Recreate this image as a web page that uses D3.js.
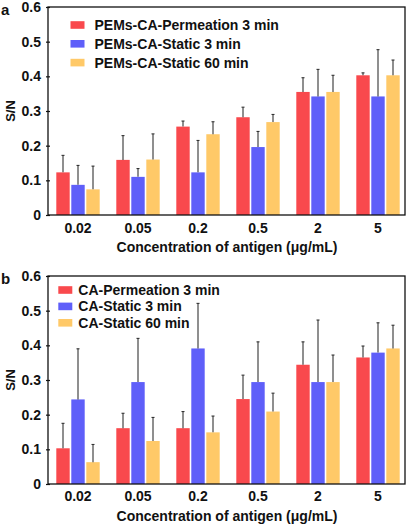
<!DOCTYPE html>
<html><head><meta charset="utf-8">
<script src="https://cdn.jsdelivr.net/npm/d3@7"></script>
<style>body{margin:0;background:#fff}svg{display:block}text{font-family:"Liberation Sans",Arial,sans-serif;font-weight:bold}</style>
</head><body>
<script>
const categories = ["0.02","0.05","0.2","0.5","2","5"];
const seriesA = ["PEMs-CA-Permeation 3 min","PEMs-CA-Static 3 min","PEMs-CA-Static 60 min"];
const seriesB = ["CA-Permeation 3 min","CA-Static 3 min","CA-Static 60 min"];
const colors = ["#F9494D","#5F5FF9","#FFC968"];
// panel a
const aPerm3 = [0.123,0.159,0.255,0.282,0.355,0.403];
const aPerm3Err = [0.172,0.229,0.271,0.311,0.396,0.410];
const aStat3 = [0.087,0.110,0.123,0.196,0.342,0.342];
const aStat3Err = [0.143,0.134,0.215,0.241,0.420,0.477];
const aStat60 = [0.074,0.160,0.233,0.268,0.355,0.403];
const aStat60Err = [0.141,0.234,0.269,0.290,0.403,0.447];
// panel b
const bPerm3 = [0.103,0.161,0.161,0.245,0.344,0.365];
const bPerm3Err = [0.175,0.204,0.209,0.314,0.410,0.398];
const bStat3 = [0.244,0.294,0.391,0.294,0.294,0.379];
const bStat3Err = [0.390,0.420,0.521,0.410,0.473,0.465];
const bStat60 = [0.063,0.124,0.149,0.209,0.294,0.391];
const bStat60Err = [0.114,0.192,0.196,0.262,0.372,0.458];
const yTicks = [0,0.1,0.2,0.3,0.4,0.5,0.6];
const xTitle = "Concentration of antigen (\u03bcg/mL)";
const yTitle = "S/N";

const W=408,H=525;
const svg=d3.select("body").append("svg").attr("width",W).attr("height",H);

function panel(opts){
  const {top,bottom,letter,names,vals,errs,legX,legY,legStep,legTextX,tickPad,titleOff}=opts;
  const left=48,right=405;
  const g=svg.append("g");
  const x=d3.scaleBand().domain(categories).range([left,408]).paddingInner(0).paddingOuter(0);
  const inner=d3.scaleBand().domain(d3.range(3)).range([0,x.bandwidth()]).paddingOuter(0.5).paddingInner(0);
  const y=d3.scaleLinear().domain([0,0.6]).range([bottom,top]);
  const data=[];
  categories.forEach((c,i)=>{for(let s=0;s<3;s++)data.push({c,s,v:vals[s][i],e:errs[s][i]});});
  // bars
  g.selectAll("rect.bar").data(data).join("rect").attr("class","bar")
    .attr("x",d=>x(d.c)+inner(d.s)+ (inner.bandwidth()-13.4)/2)
    .attr("width",13.4)
    .attr("y",d=>y(d.v)).attr("height",d=>y(0)-y(d.v))
    .attr("fill",d=>colors[d.s]);
  // error bars
  const cx=d=>x(d.c)+inner(d.s)+inner.bandwidth()/2;
  g.selectAll("line.err").data(data).join("line").attr("class","err")
    .attr("x1",cx).attr("x2",cx).attr("y1",d=>y(d.v)).attr("y2",d=>y(d.e))
    .attr("stroke","#333").attr("stroke-width",1.1);
  g.selectAll("line.cap").data(data).join("line").attr("class","cap")
    .attr("x1",d=>cx(d)-1.5).attr("x2",d=>cx(d)+1.5).attr("y1",d=>y(d.e)).attr("y2",d=>y(d.e))
    .attr("stroke","#333").attr("stroke-width",1.1);
  // frame
  g.append("rect").attr("x",left).attr("y",top).attr("width",right-left).attr("height",bottom-top)
    .attr("fill","none").attr("stroke","#111").attr("stroke-width",1.3);
  // y axis
  const ya=g.append("g").attr("transform",`translate(${left},0)`)
    .call(d3.axisLeft(y).tickValues(yTicks).tickFormat(d=>d===0?"0":d3.format(".1f")(d)).tickSizeInner(2).tickSizeOuter(0).tickPadding(5));
  ya.select(".domain").remove();
  ya.selectAll(".tick line").attr("x2",2).attr("x1",-2).attr("stroke","#111").attr("stroke-width",1.2);
  ya.selectAll(".tick text").attr("font-size",14).attr("fill","#111").attr("font-family","Liberation Sans, Arial, sans-serif").attr("font-weight","bold");
  // x axis
  const xa=g.append("g").attr("transform",`translate(0,${bottom})`)
    .call(d3.axisBottom(x).tickSize(0).tickPadding(tickPad));
  xa.select(".domain").remove();
  xa.selectAll(".tick text").attr("font-size",14).attr("fill","#111").attr("font-family","Liberation Sans, Arial, sans-serif").attr("font-weight","bold");
  // titles
  g.append("text").attr("x",227).attr("y",bottom+titleOff).attr("text-anchor","middle").attr("font-size",14).attr("fill","#111").text(xTitle);
  g.append("text").attr("transform",`translate(15,${(top+bottom)/2}) rotate(-90)`).attr("text-anchor","middle").attr("font-size",13).attr("fill","#111").text(yTitle);
  g.append("text").attr("x",1).attr("y",top+8).attr("font-size",15).attr("fill","#111").text(letter);
  // legend
  const lg=g.selectAll("g.leg").data(names).join("g").attr("class","leg")
    .attr("transform",(d,i)=>`translate(${legX},${legY+i*legStep})`);
  lg.append("rect").attr("x",0).attr("y",-3.8).attr("width",14).attr("height",7.6).attr("fill",(d,i)=>colors[i]);
  lg.append("text").attr("x",legTextX).attr("y",5).attr("font-size",14).attr("fill","#111").text(d=>d);
}

panel({top:7,bottom:215,letter:"a",names:seriesA,vals:[aPerm3,aStat3,aStat60],errs:[aPerm3Err,aStat3Err,aStat60Err],legX:70.5,legY:25,legStep:18.8,legTextX:24,tickPad:8,titleOff:37});
panel({top:276,bottom:484,letter:"b",names:seriesB,vals:[bPerm3,bStat3,bStat60],errs:[bPerm3Err,bStat3Err,bStat60Err],legX:58.3,legY:290,legStep:16.4,legTextX:20,tickPad:7,titleOff:37});
</script>
</body></html>
